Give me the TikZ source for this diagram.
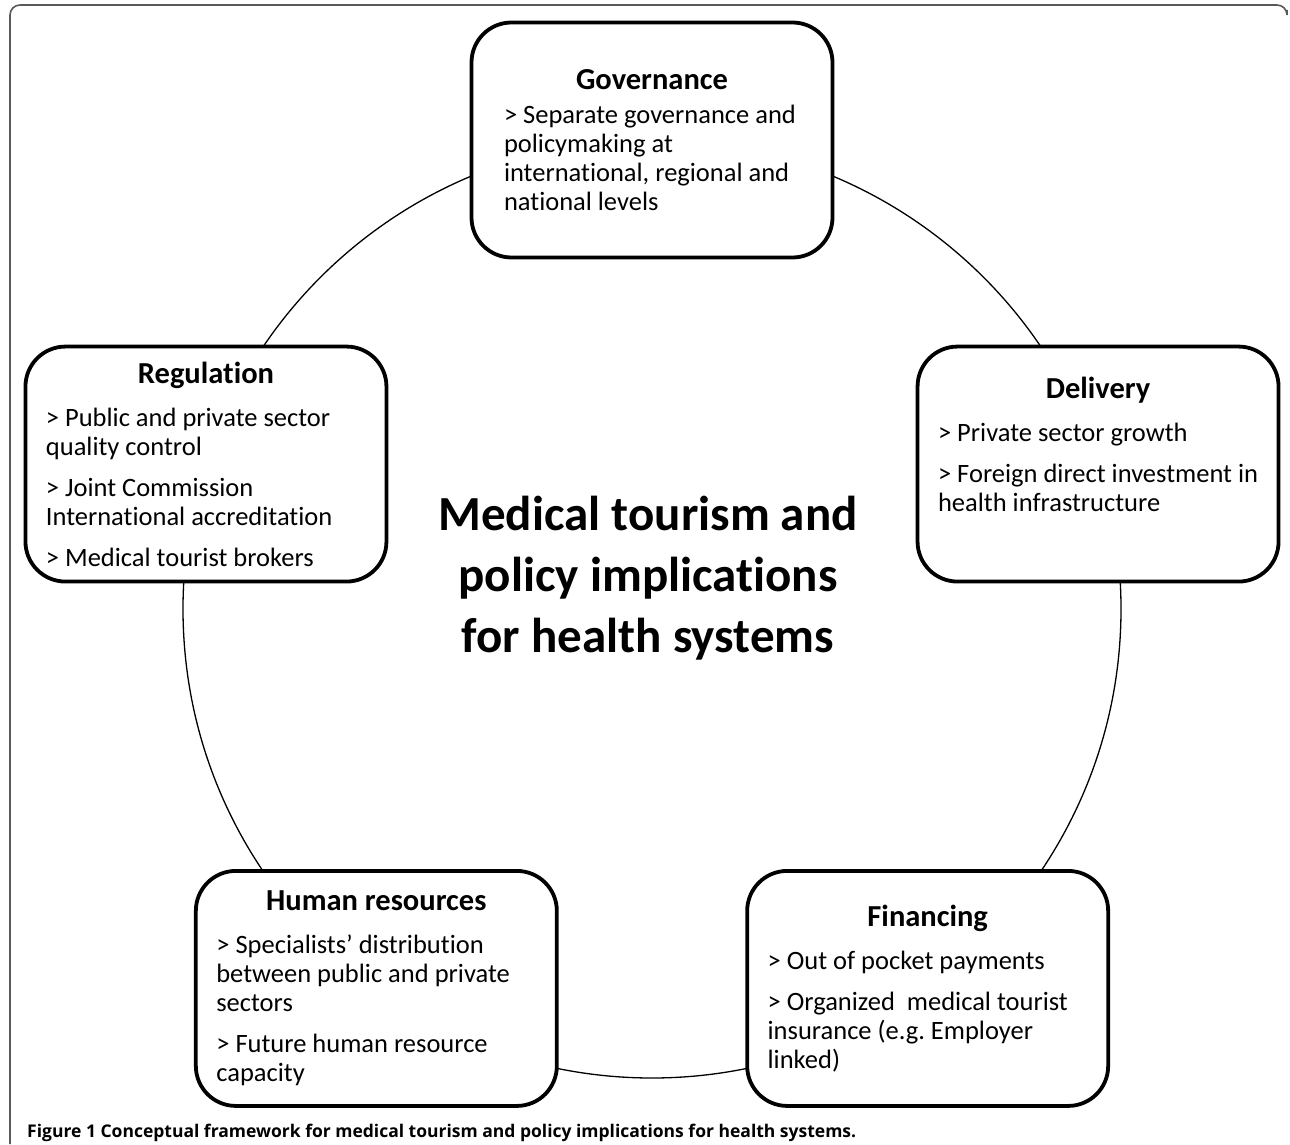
\documentclass[tikz,border=0pt]{standalone}
\usepackage{fontspec}
\setmainfont{Carlito}[Ligatures=NoCommon]
\newfontfamily\captionfont{Open Sans}
\usetikzlibrary{positioning, calc}
\frenchspacing

\definecolor{framegray}{gray}{0.35}

% heading line of a topic box, then the gap down to its first item
\newcommand{\topichead}[2][14pt]{{\centering\fontsize{30.5}{34}\selectfont\bfseries #2\par}\vspace{#1}}
\newcommand{\nextitem}{\par\vspace{12pt}}

\begin{document}
\begin{tikzpicture}[x=1pt, y=1pt,
    topic/.style={
        rectangle, draw, line width=3.8pt, rounded corners=40pt,
        fill=white, align=flush left, inner sep=0pt,
        minimum width=361pt, minimum height=235pt,
        text width=320pt, font=\fontsize{26.5}{29}\selectfont
    },
    ring/.style={draw, line width=1.3pt},
    frame/.style={draw=framegray, line width=1.6pt, rounded corners=10pt},
    hub/.style={align=flush center, font=\fontsize{49}{61}\selectfont\bfseries}
]
\useasboundingbox (0,0) rectangle (1290,1144);

%% ─── OUTER FRAME ──────────────────────────────────────────────
\draw[frame] (10,0) -- (10,1139) -- (1287,1139) -- (1287,1134);

%% ─── RING ─────────────────────────────────────────────────────
\coordinate (ring) at (652,535);
\draw[ring] (ring) circle [radius=469pt];

\node[hub] (title) at ($(ring)+(-4pt,31pt)$) {
    Medical tourism and\\
    policy implications\\
    for health systems
};

%% ─── TOPIC BOXES ──────────────────────────────────────────────
\node[topic, text width=296pt] (governance) at ($(ring)+(90:469pt)$) {
    \topichead[5pt]{Governance}
    \mbox{> Separate governance and}\\
    policymaking at\\
    international, regional and\\
    national levels
};

\node[topic] (delivery) at ($(ring)+(18:469pt)$) {
    \topichead{Delivery}
    > Private sector growth
    \nextitem
    \mbox{> Foreign direct investment in}\\
    health infrastructure
    \par\vspace{11pt}\mbox{}
};

\node[topic] (regulation) at ($(ring)+(162:469pt)$) {
    \topichead{Regulation}
    > Public and private sector\\
    quality control
    \nextitem
    > Joint Commission\\
    International accreditation
    \nextitem
    > Medical tourist brokers
};

\node[topic] (humanres) at ($(ring)+(234:469pt)$) {
    \topichead{Human resources}
    > Specialists’ distribution\\
    between public and private\\
    sectors
    \nextitem
    > Future human resource\\
    capacity
};

\node[topic] (financing) at ($(ring)+(306:469pt)$) {
    \topichead{Financing}
    > Out of pocket payments
    \nextitem
    > Organized~ medical tourist\\
    insurance (e.g. Employer\\
    linked)
};

%% ─── CAPTION ──────────────────────────────────────────────────
\node[anchor=base west, inner sep=0pt,
      font=\captionfont\bfseries\fontsize{17.5}{20}\selectfont] (caption) at (27,7)
    {Figure 1 Conceptual framework for medical tourism and policy implications for health systems.};

\end{tikzpicture}
\end{document}
